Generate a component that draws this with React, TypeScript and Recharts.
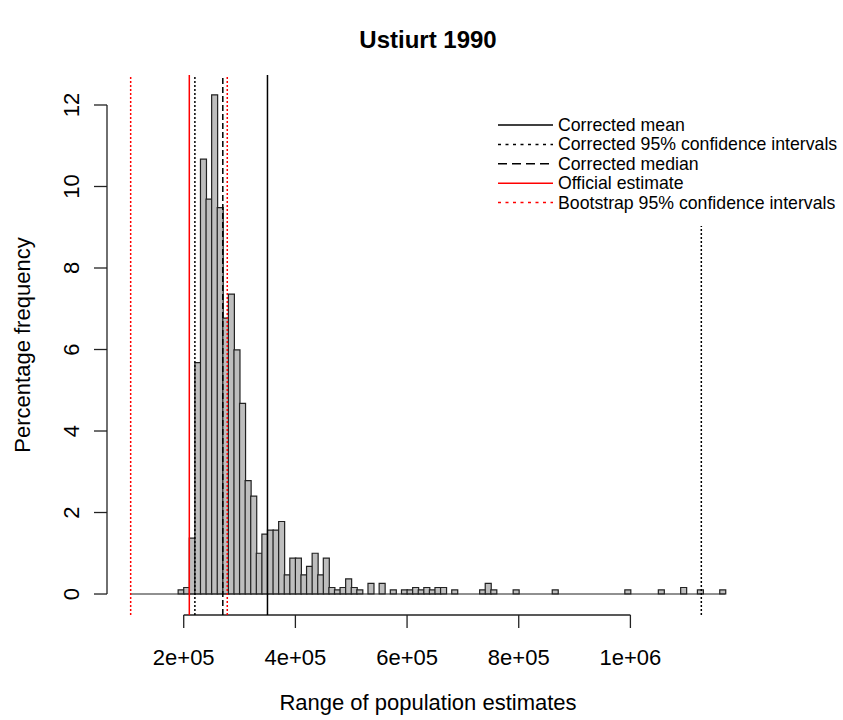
import { ComposedChart, Bar, XAxis, YAxis, ReferenceLine } from "recharts";

// histogram bins (lower edge, bin width 10000) that have a non-zero bar
const binStart = [
  190000, 200000, 210000, 220000, 230000, 240000, 250000, 260000, 270000, 280000,
  290000, 300000, 310000, 320000, 330000, 340000, 350000, 360000, 370000, 380000,
  390000, 400000, 410000, 420000, 430000, 440000, 450000, 460000, 470000, 480000,
  490000, 500000, 510000, 530000, 550000, 570000, 590000, 600000, 610000, 620000,
  630000, 640000, 650000, 660000, 680000, 730000, 740000, 750000, 790000, 860000,
  990000, 1050000, 1090000, 1120000, 1160000,
];
const pct = [
  0.1, 0.16, 1.37, 5.68, 10.67, 9.69, 12.25, 9.48, 6.77, 7.36,
  5.99, 4.68, 2.78, 2.4, 1.0, 1.47, 1.57, 1.57, 1.78, 0.47,
  0.88, 0.88, 0.47, 0.68, 1.0, 0.47, 0.88, 0.16, 0.1, 0.16,
  0.37, 0.16, 0.1, 0.26, 0.26, 0.1, 0.1, 0.1, 0.16, 0.1,
  0.16, 0.1, 0.16, 0.16, 0.1, 0.1, 0.26, 0.1, 0.1, 0.1,
  0.1, 0.1, 0.16, 0.1, 0.1,
];
const binWidth = 10000;
const histRange = [105000, 1170000];

const xTicks = [200000, 400000, 600000, 800000, 1000000];
const xTickLabels = ["2e+05", "4e+05", "6e+05", "8e+05", "1e+06"];
const yTicks = [0, 2, 4, 6, 8, 10, 12];

const correctedMean = 350000;
const correctedCI = [220000, 1127000];
const correctedMedian = 270000;
const officialEstimate = 210000;
const bootstrapCI = [105000, 278000];

const legendLabels = [
  "Corrected mean",
  "Corrected 95% confidence intervals",
  "Corrected median",
  "Official estimate",
  "Bootstrap 95% confidence intervals",
];
const legendStyles = [
  { color: "#000", dash: undefined },
  { color: "#000", dash: "3 4.5" },
  { color: "#000", dash: "9 5" },
  { color: "#f00", dash: undefined },
  { color: "#f00", dash: "3 4.5" },
];

const data = binStart.map((s, i) => ({ x: s + binWidth / 2, pct: pct[i] }));

const FONT = "'Liberation Sans', Arial, sans-serif";
const X_DOMAIN = [62600, 1212400];
const Y_DOMAIN = [-0.515, 12.736];

const YTick = (props: any) => {
  const { x, y, payload } = props;
  return (
    <text
      x={x}
      y={y}
      transform={`rotate(-90 ${x} ${y})`}
      textAnchor="middle"
      fontSize={22}
      fontFamily={FONT}
      fill="#000"
    >
      {payload.value}
    </text>
  );
};

export default function App() {
  return (
    <div style={{ position: "absolute", left: 0, top: 0, width: 843, height: 720, background: "#fff" }}>
      <ComposedChart
        width={843}
        height={720}
        data={data}
        margin={{ top: 75, right: 94, bottom: 0, left: 0 }}
        barCategoryGap={0}
        barGap={0}
      >
        <XAxis
          dataKey="x"
          type="number"
          domain={X_DOMAIN}
          allowDataOverflow
          ticks={xTicks}
          interval={0}
          tickFormatter={(v: number) => xTickLabels[xTicks.indexOf(v)]}
          axisLine={false}
          tickSize={13}
          tickMargin={21}
          tickLine={{ stroke: "#222", strokeWidth: 1.3 }}
          tick={{ fill: "#000", fontSize: 22, fontFamily: FONT }}
          height={105}
        />
        <YAxis
          type="number"
          domain={Y_DOMAIN}
          allowDataOverflow
          ticks={yTicks}
          interval={0}
          axisLine={false}
          tickSize={13}
          tickMargin={15}
          tickLine={{ stroke: "#222", strokeWidth: 1.3 }}
          tick={<YTick />}
          width={107}
        />
        {/* R-style axis lines, only between first and last tick */}
        <ReferenceLine
          segment={[{ x: xTicks[0], y: Y_DOMAIN[0] }, { x: xTicks[xTicks.length - 1], y: Y_DOMAIN[0] }]}
          stroke="#222"
          strokeWidth={1.3}
          ifOverflow="visible"
        />
        <ReferenceLine
          segment={[{ x: X_DOMAIN[0], y: yTicks[0] }, { x: X_DOMAIN[0], y: yTicks[yTicks.length - 1] }]}
          stroke="#222"
          strokeWidth={1.3}
          ifOverflow="visible"
        />
        {/* empty histogram cells along zero */}
        <ReferenceLine
          segment={[{ x: histRange[0], y: 0 }, { x: histRange[1], y: 0 }]}
          stroke="#222"
          strokeWidth={1.2}
        />
        <Bar dataKey="pct" fill="#bebebe" stroke="#222" strokeWidth={1.2} isAnimationActive={false} />

        <ReferenceLine x={correctedMean} stroke="#000" strokeWidth={1.5} />
        {correctedCI.map((v) => (
          <ReferenceLine key={"c" + v} x={v} stroke="#000" strokeWidth={1.5} strokeDasharray="2 2" />
        ))}
        <ReferenceLine x={correctedMedian} stroke="#000" strokeWidth={1.5} strokeDasharray="6 3" />
        <ReferenceLine x={officialEstimate} stroke="#f00" strokeWidth={1.5} />
        {bootstrapCI.map((v) => (
          <ReferenceLine key={"b" + v} x={v} stroke="#f00" strokeWidth={1.5} strokeDasharray="2 2" />
        ))}
      </ComposedChart>

      <svg
        width={843}
        height={720}
        style={{ position: "absolute", left: 0, top: 0, pointerEvents: "none" }}
        fontFamily={FONT}
      >
        <text x={428} y={48} textAnchor="middle" fontSize={24} fontWeight="bold" fill="#000">
          Ustiurt 1990
        </text>
        <text x={428} y={710} textAnchor="middle" fontSize={22} fill="#000">
          Range of population estimates
        </text>
        <text x={30} y={345} transform="rotate(-90 30 345)" textAnchor="middle" fontSize={22} fill="#000">
          Percentage frequency
        </text>

        {/* legend box with white background, covers the lines behind it */}
        <rect x={494} y={74} width={349} height={152} fill="#fff" />
        {legendLabels.map((label, i) => {
          const cy = 125 + i * 19.4;
          const st = legendStyles[i];
          return (
            <g key={label}>
              <line x1={498} x2={553} y1={cy} y2={cy} stroke={st.color} strokeWidth={1.5} strokeDasharray={st.dash} />
              <text x={558} y={cy + 6} fontSize={17.7} fill="#000">
                {label}
              </text>
            </g>
          );
        })}
      </svg>
    </div>
  );
}
